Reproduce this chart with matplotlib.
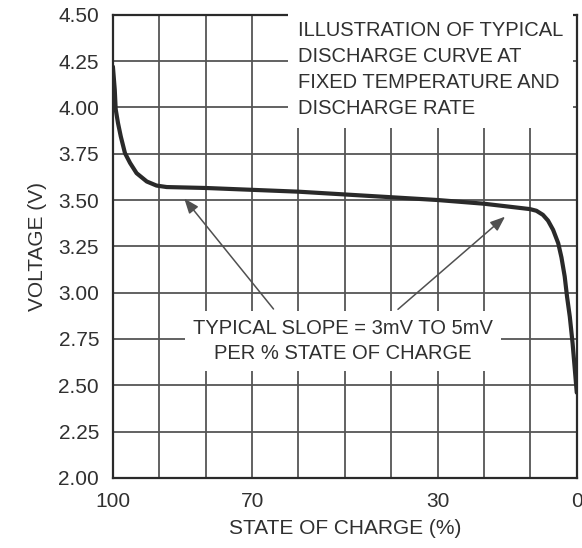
import matplotlib
matplotlib.use('Agg')
import matplotlib.pyplot as plt

plt.rcParams['font.family'] = ['Liberation Sans', 'DejaVu Sans']

# State of charge (%) and voltage
soc = [100, 99.6, 99.4, 98.9, 98.3, 97.4, 96.3, 94.9, 92.7, 90.6, 88.4, 80, 70, 60,
       50, 40, 30, 20, 10.1, 8.7, 7.3, 6.2, 5.1, 4.0, 3.3, 2.6, 2.1, 1.5, 0.9,
       0.4, 0]
voltage = [4.22, 4.095, 3.99, 3.915, 3.843, 3.753, 3.70, 3.645, 3.60, 3.578, 3.570,
           3.565, 3.555, 3.545, 3.53, 3.515, 3.50, 3.48, 3.451, 3.442, 3.42, 3.389,
           3.339, 3.267, 3.19, 3.087, 2.979, 2.87, 2.727, 2.58, 2.46]

x_labels = [100, 70, 30, 0]
y_ticks = [2.00, 2.25, 2.50, 2.75, 3.00, 3.25, 3.50, 3.75, 4.00, 4.25, 4.50]

box_text = 'ILLUSTRATION OF TYPICAL\nDISCHARGE CURVE AT\nFIXED TEMPERATURE AND\nDISCHARGE RATE'
slope_text = 'TYPICAL SLOPE = 3mV TO 5mV\nPER % STATE OF CHARGE'

ink = '#2a2a2a'
grid_col = '#555555'
txt = '#303030'

fig = plt.figure(figsize=(5.82, 5.48), dpi=100)
ax = fig.add_axes([0.194, 0.128, 0.797, 0.845])

ax.plot(soc, voltage, color=ink, lw=3, solid_capstyle='round',
        solid_joinstyle='round', zorder=3)

ax.set_xlim(100, 0)
ax.set_ylim(2.0, 4.5)
ax.set_xticks(x_labels)
ax.set_xticks(range(0, 101, 10), minor=True)
ax.set_yticks(y_ticks)
ax.set_yticklabels([f'{v:.2f}' for v in y_ticks])
ax.grid(True, which='both', color=grid_col, lw=1.3)
ax.tick_params(which='both', length=0, labelsize=15, colors=txt, pad=10)
for s in ax.spines.values():
    s.set_color(ink)
    s.set_linewidth(1.6)

ax.set_xlabel('STATE OF CHARGE (%)', fontsize=15, color=txt, labelpad=6)
ax.set_ylabel('VOLTAGE (V)', fontsize=15, color=txt, labelpad=8)

ax.text(60.1, 4.465, box_text, fontsize=14.5, color=txt, ha='left', va='top',
        linespacing=1.45, zorder=4,
        bbox=dict(boxstyle='square,pad=0.5', fc='white', ec='none'))

ax.text(50.5, 2.74, slope_text, fontsize=14.5, color=txt, ha='center', va='center',
        linespacing=1.4, zorder=4,
        bbox=dict(boxstyle='square,pad=0.4', fc='white', ec='none'))

arrow = dict(arrowstyle='-|>,head_length=0.9,head_width=0.35', color='#505050', lw=1.1)
ax.annotate('', xy=(85, 3.52), xytext=(65, 2.90), arrowprops=arrow, zorder=5)
ax.annotate('', xy=(15, 3.42), xytext=(39, 2.90), arrowprops=arrow, zorder=5)

fig.savefig('out.png', dpi=100)
